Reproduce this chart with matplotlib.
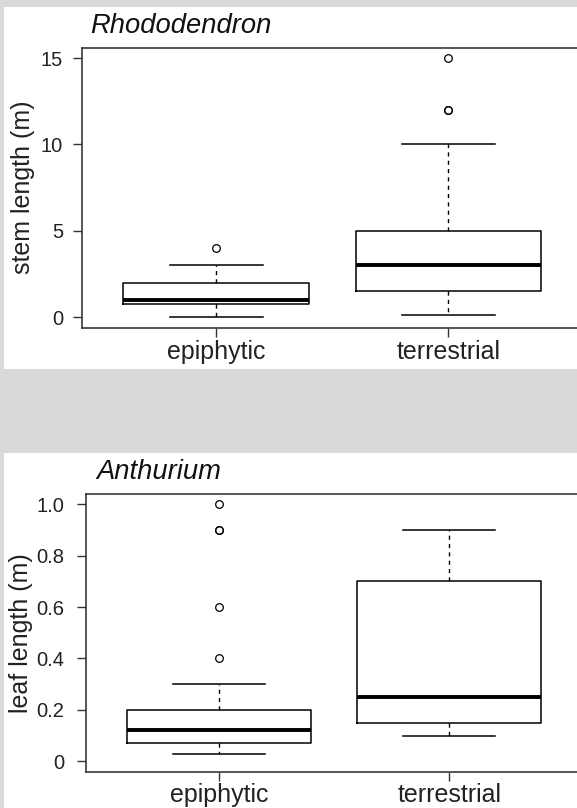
import matplotlib
matplotlib.use("Agg")
import matplotlib.pyplot as plt
from matplotlib.patches import Rectangle

plt.rcParams['font.family'] = ['Liberation Sans', 'DejaVu Sans']

groups = ['epiphytic', 'terrestrial']

# Rhododendron stem length (m): whislo, q1, median, q3, whishi, outliers
rho_whislo = [0.0, 0.15]
rho_q1 = [0.8, 1.5]
rho_med = [1.0, 3.0]
rho_q3 = [2.0, 5.0]
rho_whishi = [3.0, 10.0]
rho_fliers = [[4.0], [12.0, 12.0, 15.0]]

# Anthurium leaf length (m)
ant_whislo = [0.03, 0.10]
ant_q1 = [0.07, 0.15]
ant_med = [0.12, 0.25]
ant_q3 = [0.20, 0.70]
ant_whishi = [0.30, 0.90]
ant_fliers = [[0.4, 0.6, 0.9, 0.9, 1.0], []]

W, H = 577, 808
fig = plt.figure(figsize=(W / 100, H / 100), dpi=100, facecolor='#d9d9d9')

# white panels behind each plot
fig.patches.append(Rectangle((4 / W, 1 - 368.5 / H), 1, (368.5 - 7) / H,
                             transform=fig.transFigure, facecolor='white',
                             edgecolor='none', zorder=-10))
fig.patches.append(Rectangle((4 / W, 0), 1, 1 - 453 / H,
                             transform=fig.transFigure, facecolor='white',
                             edgecolor='none', zorder=-10))


def make_stats(lo, q1, med, q3, hi, fl):
    return [dict(whislo=lo[i], q1=q1[i], med=med[i], q3=q3[i], whishi=hi[i],
                 fliers=fl[i], label=groups[i]) for i in range(len(groups))]


def draw(ax, stats, ylim, yticks, ylabels, ylab, tpad):
    ax.set_zorder(5)
    ax.bxp(stats, positions=[1, 2], widths=0.8,
           boxprops=dict(color='black', linewidth=1.1),
           medianprops=dict(color='black', linewidth=2.8),
           whiskerprops=dict(color='black', linewidth=1.0, linestyle=(0, (3, 3))),
           capprops=dict(color='black', linewidth=1.1),
           flierprops=dict(marker='o', markerfacecolor='none',
                           markeredgecolor='black', markersize=5.5,
                           markeredgewidth=0.9))
    ax.set_xlim(0.42, 2.58)
    ax.set_ylim(*ylim)
    ax.set_yticks(yticks)
    ax.set_yticklabels(ylabels)
    ax.set_xticks([1, 2])
    ax.set_xticklabels(groups)
    for s in ax.spines.values():
        s.set_color('#3a3a3a')
        s.set_linewidth(1.2)
    ax.tick_params(axis='y', length=6.5, width=1, color='#333333', pad=tpad,
                   labelsize=14.5, labelcolor='#222222')
    ax.tick_params(axis='x', length=6.5, width=1, color='#333333', pad=2,
                   labelsize=18, labelcolor='#222222')
    ax.set_ylabel(ylab, fontsize=18, color='#222222')


ax1 = fig.add_axes([81.7 / W, 1 - 327.7 / H, (582.9 - 81.7) / W, (327.7 - 47.7) / H])
draw(ax1, make_stats(rho_whislo, rho_q1, rho_med, rho_q3, rho_whishi, rho_fliers),
     (-0.6, 15.6), [0, 5, 10, 15], ['0', '5', '10', '15'], 'stem length (m)', 7)
ax1.yaxis.set_label_coords(-(81.7 - 35) / (582.9 - 81.7), 0.5)

ax2 = fig.add_axes([86 / W, 1 - 771.5 / H, (582.8 - 86) / W, (771.5 - 494) / H])
draw(ax2, make_stats(ant_whislo, ant_q1, ant_med, ant_q3, ant_whishi, ant_fliers),
     (-0.04, 1.04), [0, 0.2, 0.4, 0.6, 0.8, 1.0],
     ['0', '0.2', '0.4', '0.6', '0.8', '1.0'], 'leaf length (m)', 9)
ax2.yaxis.set_label_coords(-(86 - 33) / (582.8 - 86), 0.5)

fig.text(90 / W, 1 - 33.3 / H, 'Rhododendron', style='italic', fontsize=19.7,
         color='#111111', va='baseline', ha='left')
fig.text(96.7 / W, 1 - 479.3 / H, 'Anthurium', style='italic', fontsize=19.7,
         color='#111111', va='baseline', ha='left')

fig.savefig('out.png', dpi=100, facecolor=fig.get_facecolor())
